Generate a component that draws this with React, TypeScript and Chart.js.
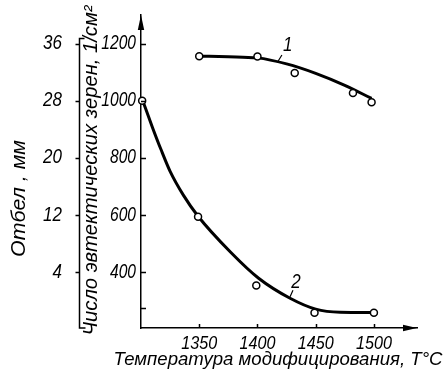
import { useEffect, useRef } from "react";
import { Chart, registerables } from "chart.js";

Chart.register(...registerables);

// Curve 1 – measured points and drawn curve (number of eutectic grains, 1/cm²)
const points1T = [1350, 1400, 1432, 1482, 1498];
const points1V = [1156, 1155, 1097, 1027, 995];
const curve1T = [1350, 1375, 1400, 1425, 1450, 1475, 1498];
const curve1V = [1156, 1154, 1150, 1129, 1096, 1054, 1008];

// Curve 2 – measured points and drawn curve
const points2T = [1301, 1349, 1399, 1449, 1500];
const points2V = [1000, 594, 354, 258, 258];
const curve2T = [1301.5, 1310, 1317, 1325, 1336.5, 1349, 1377, 1401, 1428, 1450, 1471, 1499];
const curve2V = [1000, 905, 831, 753, 669, 596, 470, 379, 309, 271, 260, 259];

// Axes
const xMin = 1300;
const xMax = 1537;
const yMin = 205;
const yMax = 1300;
const xTicks = [1350, 1400, 1450, 1500];
const xTickLabels = ["1350", "1400", "1450", "1500"];
const yTicks = [275, 400, 600, 800, 1000, 1200];
const yTickLabels = ["", "400", "600", "800", "1000", "1200"];
const mmTicks = [4, 12, 20, 28, 36];
const mmTickLabels = ["4", "12", "20", "28", "36"];
const mmBracketTop = 36.7;

// Curve name labels with leader lines
const curveNames = ["1", "2"];
const nameT = [1426, 1433];
const nameV = [1194, 366];
const leadT0 = [1417, 1428];
const leadV0 = [1134, 314];
const leadT1 = [1421, 1430.5];
const leadV1 = [1160, 337];

const xTitle = "Температура модифицирования, T°C";
const yTitle = "Число эвтектических зерен, 1/см²";
const y2Title = "Отбел , мм";

const FONT = "'Liberation Sans', Arial, sans-serif";

const toMm = (v: number) => (v - 300) / 25;

const pts = (t: number[], v: number[]) => t.map((x, i) => ({ x, y: v[i] }));

function text(
  ctx: CanvasRenderingContext2D,
  s: string,
  x: number,
  y: number,
  size: number,
  sx: number,
  align: CanvasTextAlign,
  rot = 0,
  targetWidth = 0
) {
  ctx.save();
  ctx.fillStyle = "#000";
  ctx.font = `italic ${size}px ${FONT}`;
  ctx.textAlign = align;
  ctx.textBaseline = "middle";
  let k = sx;
  if (targetWidth > 0) k = targetWidth / ctx.measureText(s).width;
  ctx.translate(x, y);
  if (rot) ctx.rotate(rot);
  ctx.scale(k, 1);
  ctx.fillText(s, 0, 0);
  ctx.restore();
}

const decor = {
  id: "decor",
  afterDraw(chart: any) {
    const ctx = chart.ctx as CanvasRenderingContext2D;
    const { left, right, top, bottom } = chart.chartArea;
    const x = chart.scales.x;
    const y = chart.scales.y;
    const y2 = chart.scales.y2;
    ctx.save();
    ctx.strokeStyle = "#000";
    ctx.fillStyle = "#000";
    ctx.lineWidth = 1.5;
    // arrow heads
    ctx.beginPath();
    ctx.moveTo(left, top);
    ctx.lineTo(left - 3.2, top + 15);
    ctx.lineTo(left + 3.2, top + 15);
    ctx.closePath();
    ctx.fill();
    ctx.beginPath();
    ctx.moveTo(right, bottom);
    ctx.lineTo(right - 14, bottom - 3.2);
    ctx.lineTo(right - 14, bottom + 3.2);
    ctx.closePath();
    ctx.fill();
    // inward ticks
    ctx.beginPath();
    yTicks.forEach((v) => {
      const py = Math.round(y.getPixelForValue(v)) + 0.5;
      ctx.moveTo(left, py);
      ctx.lineTo(left + 5, py);
    });
    xTicks.forEach((v) => {
      const px = Math.round(x.getPixelForValue(v)) + 0.5;
      ctx.moveTo(px, bottom);
      ctx.lineTo(px, bottom - 4);
    });
    // outer axis: bracket and outward ticks
    const bx = Math.round(y2.right) + 0.5;
    const bt = y2.getPixelForValue(mmBracketTop);
    ctx.moveTo(bx + 5, bt);
    ctx.lineTo(bx, bt);
    ctx.lineTo(bx, bottom);
    ctx.lineTo(bx + 6, bottom);
    mmTicks.forEach((v) => {
      const py = Math.round(y2.getPixelForValue(v)) + 0.5;
      ctx.moveTo(bx, py);
      ctx.lineTo(bx - 4, py);
    });
    ctx.stroke();
    // leader lines
    ctx.lineWidth = 1.2;
    ctx.beginPath();
    curveNames.forEach((_, i) => {
      ctx.moveTo(x.getPixelForValue(leadT0[i]), y.getPixelForValue(leadV0[i]));
      ctx.lineTo(x.getPixelForValue(leadT1[i]), y.getPixelForValue(leadV1[i]));
    });
    ctx.stroke();
    ctx.restore();

    // tick labels
    yTicks.forEach((v, i) => {
      if (yTickLabels[i]) text(ctx, yTickLabels[i], y.right - 5, y.getPixelForValue(v), 20, 0.78, "right");
    });
    mmTicks.forEach((v, i) => {
      text(ctx, mmTickLabels[i], y2.right - 17, y2.getPixelForValue(v), 20, 0.85, "right");
    });
    xTicks.forEach((v, i) => {
      text(ctx, xTickLabels[i], x.getPixelForValue(v), x.top + 15.5, 19, 0.85, "center");
    });
    // curve names
    curveNames.forEach((n, i) => {
      text(ctx, n, x.getPixelForValue(nameT[i]), y.getPixelForValue(nameV[i]), 20, 0.85, "center");
    });
    // axis titles
    text(ctx, xTitle, (left + right) / 2 - 1, x.top + 32, 19, 1, "center", 0, 329);
    text(ctx, yTitle, y.left + 12, (top + bottom) / 2 - 1, 20, 1, "center", -Math.PI / 2, 330);
    text(ctx, y2Title, y2.left + 19, (top + bottom) / 2 + 27, 21, 1, "center", -Math.PI / 2, 117);
  },
};

export default function App() {
  const ref = useRef<HTMLCanvasElement>(null);
  useEffect(() => {
    if (!ref.current) return;
    const lineStyle = {
      borderColor: "#000",
      borderWidth: 3,
      pointRadius: 0,
      cubicInterpolationMode: "monotone" as const,
      fill: false,
      order: 2,
      clip: false as any,
    };
    const pointStyle = {
      showLine: false,
      pointRadius: 3.5,
      pointBorderWidth: 1.5,
      pointBackgroundColor: "#fff",
      pointBorderColor: "#000",
      borderColor: "#000",
      backgroundColor: "#fff",
      order: 1,
      clip: false as any,
    };
    const hiddenTicks = { display: false };
    const chart = new Chart(ref.current, {
      type: "line",
      data: {
        datasets: [
          { ...lineStyle, data: pts(curve1T, curve1V) },
          { ...pointStyle, data: pts(points1T, points1V) },
          { ...lineStyle, data: pts(curve2T, curve2V) },
          { ...pointStyle, data: pts(points2T, points2V) },
        ] as any,
      },
      options: {
        animation: false,
        responsive: true,
        maintainAspectRatio: false,
        layout: { padding: { top: 15, right: 29, left: 0, bottom: 0 } },
        plugins: { legend: { display: false }, tooltip: { enabled: false } },
        scales: {
          x: {
            type: "linear",
            min: xMin,
            max: xMax,
            grid: { display: false, drawTicks: false },
            border: { display: true, color: "#000", width: 1.5 },
            afterBuildTicks: (s: any) => {
              s.ticks = xTicks.map((value) => ({ value }));
            },
            afterFit: (s: any) => {
              s.height = 50;
            },
            ticks: hiddenTicks,
          },
          y: {
            type: "linear",
            position: "left",
            weight: 0,
            min: yMin,
            max: yMax,
            grid: { display: false, drawTicks: false },
            border: { display: true, color: "#000", width: 1.5 },
            afterBuildTicks: (s: any) => {
              s.ticks = yTicks.map((value) => ({ value }));
            },
            afterFit: (s: any) => {
              s.width = 62;
            },
            ticks: hiddenTicks,
          },
          y2: {
            type: "linear",
            position: "left",
            weight: 1,
            min: toMm(yMin),
            max: toMm(yMax),
            grid: { display: false, drawTicks: false },
            border: { display: false },
            afterBuildTicks: (s: any) => {
              s.ticks = mmTicks.map((value) => ({ value }));
            },
            afterFit: (s: any) => {
              s.width = 79;
            },
            ticks: hiddenTicks,
          },
        },
      },
      plugins: [decor],
    });
    return () => chart.destroy();
  }, []);
  return (
    <div style={{ position: "fixed", left: 0, top: 0, width: 446, height: 378, background: "#fff" }}>
      <canvas ref={ref} />
    </div>
  );
}
